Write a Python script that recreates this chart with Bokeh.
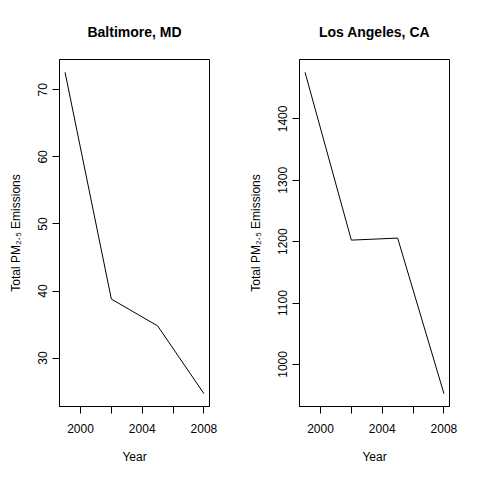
from bokeh.plotting import figure
from bokeh.layouts import row
from bokeh.models import Range1d, FixedTicker
from bokeh.embed import file_html
from bokeh.resources import INLINE

years = [1999, 2002, 2005, 2008]
baltimore = [72.6, 38.8, 34.8, 24.7]
los_angeles = [1475.8, 1202.5, 1205.8, 952.4]
titles = ["Baltimore, MD", "Los Angeles, CA"]
x_ticks = [2000, 2002, 2004, 2006, 2008]
x_tick_labels = {2000: "2000", 2002: "", 2004: "2004", 2006: "", 2008: "2008"}
y_ticks_balt = [30, 40, 50, 60, 70]
y_ticks_la = [1000, 1100, 1200, 1300, 1400]
y_label = "Total PM\u2082.\u2085 Emissions"
x_label = "Year"

FONT = "Liberation Sans"
FRAME_W, FRAME_H = 150, 347
TOP, BOTTOM = 59, 70


def rext(vals):
    lo, hi = min(vals), max(vals)
    d = (hi - lo) * 0.04
    return lo - d, hi + d


def panel(title, vals, yticks, border_left, border_right):
    x0, x1 = rext(years)
    y0, y1 = rext(vals)
    p = figure(width=border_left + FRAME_W + border_right,
               height=TOP + FRAME_H + BOTTOM,
               x_range=Range1d(x0, x1), y_range=Range1d(y0, y1),
               output_backend="svg", toolbar_location=None,
               min_border_left=border_left, min_border_right=border_right,
               min_border_top=TOP, min_border_bottom=BOTTOM)
    p.title.text = title
    p.title.align = "center"
    p.title.text_font = FONT
    p.title.text_font_size = "14px"
    p.title.text_font_style = "bold"
    p.title.text_color = "black"
    p.title.standoff = 40
    p.xgrid.visible = False
    p.ygrid.visible = False
    p.outline_line_color = "black"
    p.outline_line_width = 1
    p.outline_line_alpha = 1
    p.background_fill_color = "white"
    p.border_fill_color = "white"

    p.line(years, vals, line_color="black", line_width=1)

    for ax in (p.xaxis[0], p.yaxis[0]):
        ax.axis_line_color = "black"
        ax.major_tick_line_color = "black"
        ax.major_tick_out = 7
        ax.major_tick_in = 0
        ax.minor_tick_line_color = None
        ax.major_label_text_font = FONT
        ax.major_label_text_font_size = "12px"
        ax.major_label_text_color = "black"
        ax.axis_label_text_font = FONT
        ax.axis_label_text_font_size = "12px"
        ax.axis_label_text_font_style = "normal"
        ax.axis_label_text_color = "black"

    p.xaxis.ticker = FixedTicker(ticks=x_ticks)
    p.xaxis.major_label_overrides = x_tick_labels
    p.xaxis.major_label_standoff = 10
    p.xaxis.axis_label = x_label
    p.xaxis.axis_label_standoff = 14

    p.yaxis.ticker = FixedTicker(ticks=yticks)
    p.yaxis.major_label_orientation = "vertical"
    p.yaxis.major_label_standoff = 5
    p.yaxis.axis_label = y_label
    p.yaxis.axis_label_standoff = 13
    return p


p1 = panel(titles[0], baltimore, y_ticks_balt, 59, 31)
p2 = panel(titles[1], los_angeles, y_ticks_la, 59, 27)

layout = row(p1, p2)
open("out.html", "w").write(file_html(layout, INLINE))
